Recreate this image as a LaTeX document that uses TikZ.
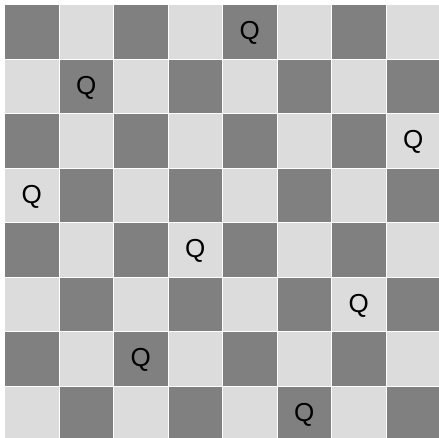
\documentclass[tikz,border=0pt]{standalone}
\usepackage{fontspec}
\setmainfont{Liberation Sans}
\usepackage{xcolor}
\definecolor{darksq}{HTML}{808080}
\definecolor{lightsq}{HTML}{DCDCDC}

\begin{document}
\begin{tikzpicture}[
  x=1pt, y=-1pt,
  square/.style={rectangle, draw=white, line width=1pt, minimum size=54.5pt,
                 inner sep=0pt, outer sep=0pt, anchor=north west},
  queen/.style={font=\fontsize{26}{26}\selectfont, text=black, yshift=-1.5pt}
]
\useasboundingbox (0,0) rectangle (439,437);
\clip (0,0) rectangle (439,437);
\fill[white] (0,0) rectangle (439,437);

% Felder
\foreach \r in {0,...,7}{
  \foreach \c in {0,...,7}{
    \pgfmathtruncatemacro{\parity}{mod(\r+\c,2)}
    \ifnum\parity=0
      \node[square, fill=darksq] (sq-\r-\c) at ({4.5+54.5*\c},{4.5+54.5*\r}) {};
    \else
      \node[square, fill=lightsq] (sq-\r-\c) at ({4.5+54.5*\c},{4.5+54.5*\r}) {};
    \fi
  }
}

% Damen
\foreach \r/\c in {0/4, 1/1, 2/7, 3/0, 4/3, 5/6, 6/2, 7/5}{
  \node[queen] (q-\r) at (sq-\r-\c.center) {Q};
}

\end{tikzpicture}
\end{document}
